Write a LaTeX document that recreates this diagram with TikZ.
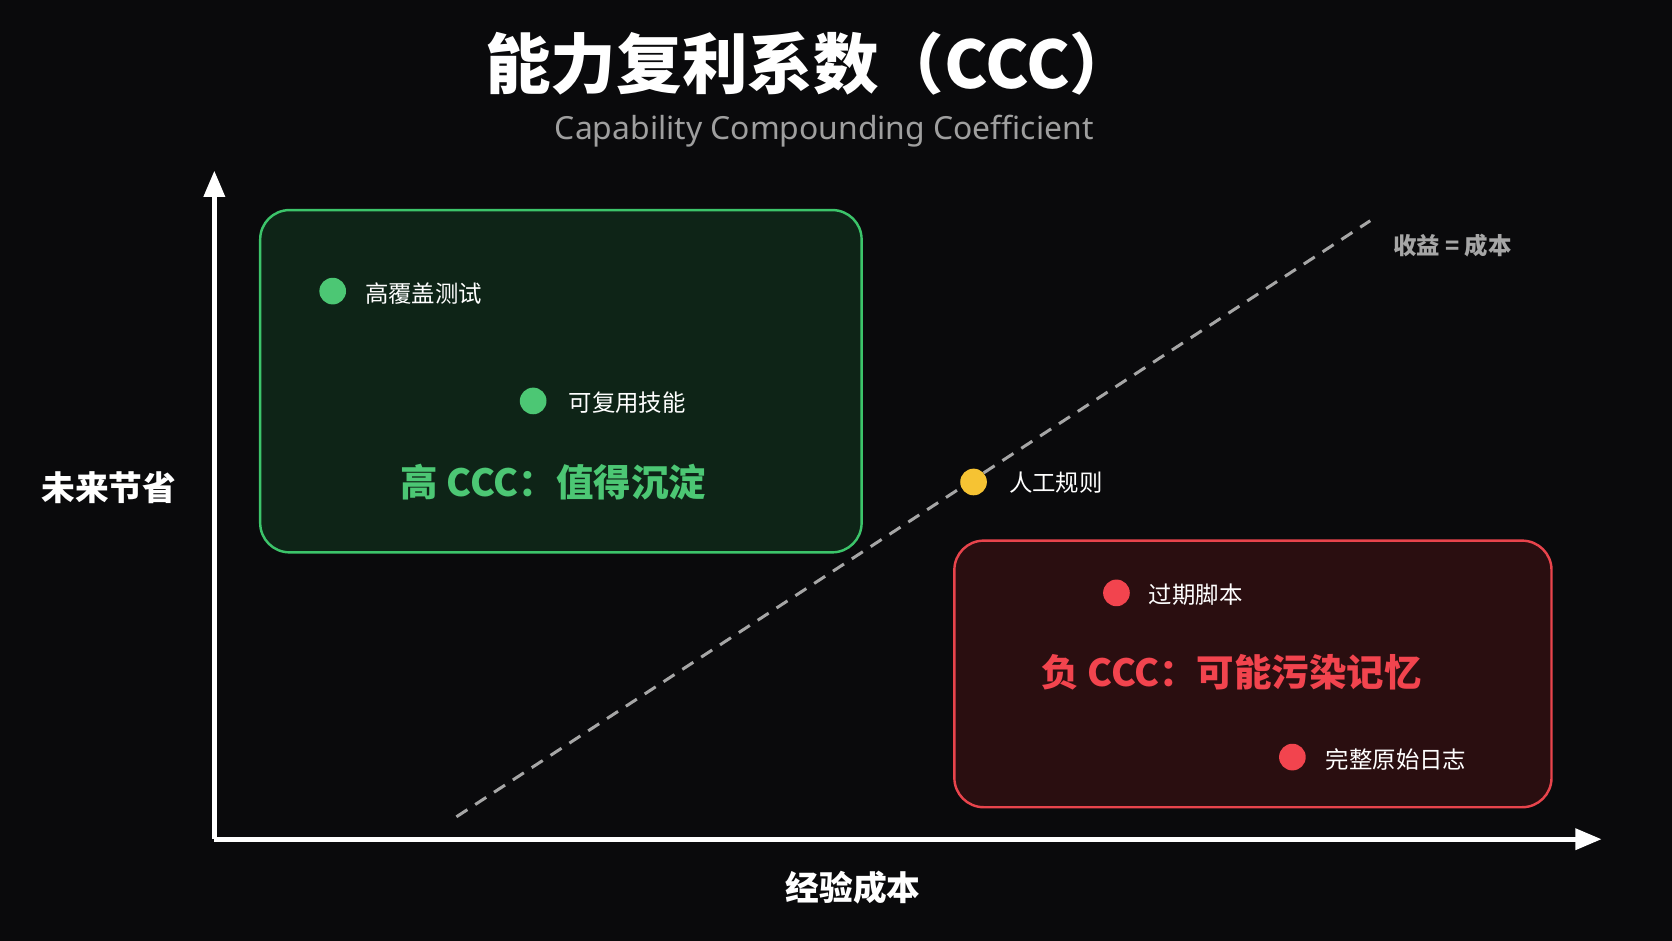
\documentclass[tikz,border=0pt]{standalone}
\usepackage{fontspec}
\setmainfont{Noto Sans CJK SC}
\newfontfamily\latinfont{Noto Sans}
\usetikzlibrary{arrows.meta}
\definecolor{bg}{HTML}{0A0A0C}
\definecolor{gfill}{HTML}{0E2417}
\definecolor{gline}{HTML}{3CC46A}
\definecolor{gtext}{HTML}{4CC774}
\definecolor{rfill}{HTML}{2A0E10}
\definecolor{rline}{HTML}{E8444C}
\definecolor{rtext}{HTML}{F2444E}
\definecolor{ydot}{HTML}{F6C333}
\tikzset{
  dotg/.style={circle,fill=gtext,minimum size=25*0.02cm,inner sep=0},
  dotr/.style={circle,fill=rtext,minimum size=25*0.02cm,inner sep=0},
  dotlab/.style={text=white,font=\fontsize{12.5}{14}\selectfont,anchor=west,inner sep=0},
  zone/.style={rounded corners=0.55cm,line width=1.3pt},
}
\begin{document}
\begin{tikzpicture}[x=0.02cm,y=-0.02cm]
\fill[bg] (0,0) rectangle (1568,882);
\useasboundingbox (0,0) rectangle (1568,882);
\node (title) at (760,60) {\fontsize{35}{40}\selectfont\bfseries\color{white}能力复利系数（CCC）};
\node (sub) at (773,123) {\latinfont\fontsize{17}{20}\selectfont\color{gray!75}Capability Compounding Coefficient};
% boxes
\node[zone,draw=gline,fill=gfill,minimum width=564*0.02cm,minimum height=321*0.02cm] (gbox) at (526,357.5) {};
\node[zone,draw=rline,fill=rfill,minimum width=560*0.02cm,minimum height=250*0.02cm] (rbox) at (1175,632) {};
% axes
\coordinate (o) at (201,787);
\coordinate (ytop) at (201,160);
\coordinate (xend) at (1502,787);
\draw[white,line width=2.5pt,-{Triangle[length=14pt,width=11pt]}] (o) -- (ytop);
\draw[white,line width=2.5pt,-{Triangle[length=14pt,width=11pt]}] (o) -- (xend);
% dashed
\coordinate (d1) at (428,766);
\coordinate (d2) at (1285,207);
\draw[gray!70,line width=1.6pt,dash pattern=on 7pt off 5pt] (d1) -- (d2);
\node (eq) at (1362,230) {\fontsize{12.5}{14}\selectfont\bfseries\color{gray!70}收益 = 成本};
% dots
\node[dotg] (a) at (312,273) {}; \node[dotlab] (al) at (342,275) {高覆盖测试};
\node[dotg] (b) at (500,376) {}; \node[dotlab] (bl) at (533,378) {可复用技能};
\node[circle,fill=ydot,minimum size=25*0.02cm,inner sep=0] (c) at (913,452) {}; \node[dotlab] (cl) at (946,453) {人工规则};
\node[dotr] (d) at (1047,556) {}; \node[dotlab] (dl) at (1077,558) {过期脚本};
\node[dotr] (e) at (1212,710) {}; \node[dotlab] (el) at (1243,712) {完整原始日志};
\node (gl) at (519,452) {\fontsize{20}{24}\selectfont\bfseries\color{gtext}高 CCC：值得沉淀};
\node (rl) at (1155,630) {\fontsize{20}{24}\selectfont\bfseries\color{rtext}负 CCC：可能污染记忆};
\node (yl) at (102,457) {\fontsize{18}{22}\selectfont\bfseries\color{white}未来节省};
\node (xl) at (800,832) {\fontsize{18}{22}\selectfont\bfseries\color{white}经验成本};
\end{tikzpicture}
\end{document}
